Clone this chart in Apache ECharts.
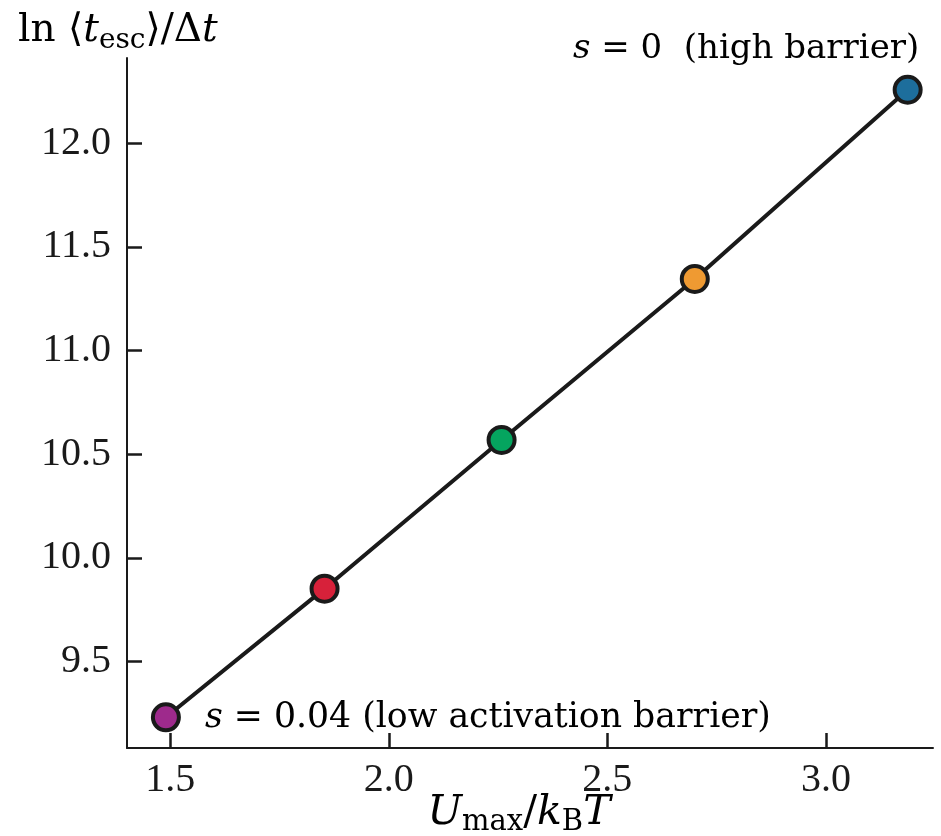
<!DOCTYPE html>
<html>
<head>
<meta charset="utf-8">
<script src="https://cdn.jsdelivr.net/npm/echarts@6/dist/echarts.min.js"></script>
<style>
    html, body { margin: 0; padding: 0; background: #fff; }
    #chart { width: 941px; height: 836px; }
</style>
</head>
<body>
<div id="chart"></div>
<script>
// values
var uMax = [1.49, 1.853, 2.258, 2.700, 3.187];
var lnEsc = [9.232, 9.852, 10.569, 11.345, 12.257];
var pointColors = ['#9e2a8c', '#d7213a', '#05a55f', '#ef9a32', '#1d6e9c'];
var xTicks = [1.5, 2.0, 2.5, 3.0];
var yTicks = [9.5, 10.0, 10.5, 11.0, 11.5, 12.0];

var serif = '"Liberation Serif", "DejaVu Serif", serif';
var wideSerif = '"DejaVu Serif", "Liberation Serif", serif';
var ink = '#1a1a1a';

function mathRich(size, subSize, lh) {
    return {
        n: {fontFamily: wideSerif, fontSize: size, lineHeight: lh, verticalAlign: 'middle', color: ink},
        i: {fontFamily: wideSerif, fontSize: size, fontStyle: 'italic', lineHeight: lh, verticalAlign: 'middle', color: ink},
        sub: {fontFamily: wideSerif, fontSize: subSize, lineHeight: lh, verticalAlign: 'bottom', color: ink}
    };
}

function init() {
    var chart = echarts.init(document.getElementById('chart'), null, {renderer: 'canvas'});

    var points = uMax.map(function (x, i) {
        return {
            value: [x, lnEsc[i]],
            itemStyle: {color: pointColors[i]}
        };
    });

    var axisLabel = {
        color: ink,
        fontFamily: serif,
        fontSize: 40,
        formatter: function (v) { return v.toFixed(1); }
    };

    var option = {
        backgroundColor: '#fff',
        animation: false,
        grid: {left: 127, right: 8, top: 58, bottom: 88},
        xAxis: {
            type: 'value',
            min: 1.401,
            max: 3.245,
            axisLine: {lineStyle: {color: ink, width: 2}},
            axisTick: {inside: true, length: 15, lineStyle: {color: ink, width: 2.5}, customValues: xTicks},
            axisLabel: Object.assign({margin: 12, customValues: xTicks}, axisLabel),
            splitLine: {show: false}
        },
        yAxis: {
            type: 'value',
            min: 9.084,
            max: 12.41,
            axisLine: {show: true, lineStyle: {color: ink, width: 2}},
            axisTick: {show: true, inside: true, length: 15, lineStyle: {color: ink, width: 2.5}, customValues: yTicks},
            axisLabel: Object.assign({margin: 16, customValues: yTicks}, axisLabel),
            splitLine: {show: false}
        },
        series: [{
            type: 'line',
            data: points,
            symbol: 'circle',
            symbolSize: 26,
            lineStyle: {color: ink, width: 4},
            itemStyle: {borderColor: ink, borderWidth: 4},
            z: 3
        }],
        graphic: [
            // y axis title
            {
                type: 'text', x: 18, y: 7,
                style: {
                    text: '{n|ln ⟨}{i|t}{sub|esc}{n|⟩/Δ}{i|t}',
                    rich: mathRich(39, 28, 48)
                }
            },
            // x axis title
            {
                type: 'text', x: 519, y: 789,
                style: {
                    text: '{i|U}{sub|max}{n|/}{i|k}{sub|B}{i|T}',
                    align: 'center',
                    rich: mathRich(41, 29, 48)
                }
            },
            // annotations
            {
                type: 'text', x: 573, y: 29,
                style: {
                    text: '{i|s}{n| = 0  (high barrier)}',
                    rich: mathRich(34, 26, 40)
                }
            },
            {
                type: 'text', x: 205, y: 698,
                style: {
                    text: '{i|s}{n| = 0.04 (low activation barrier)}',
                    rich: mathRich(34.7, 26, 40)
                }
            }
        ]
    };

    chart.setOption(option);
    window.chart = chart;
}

init();
</script>
</body>
</html>
